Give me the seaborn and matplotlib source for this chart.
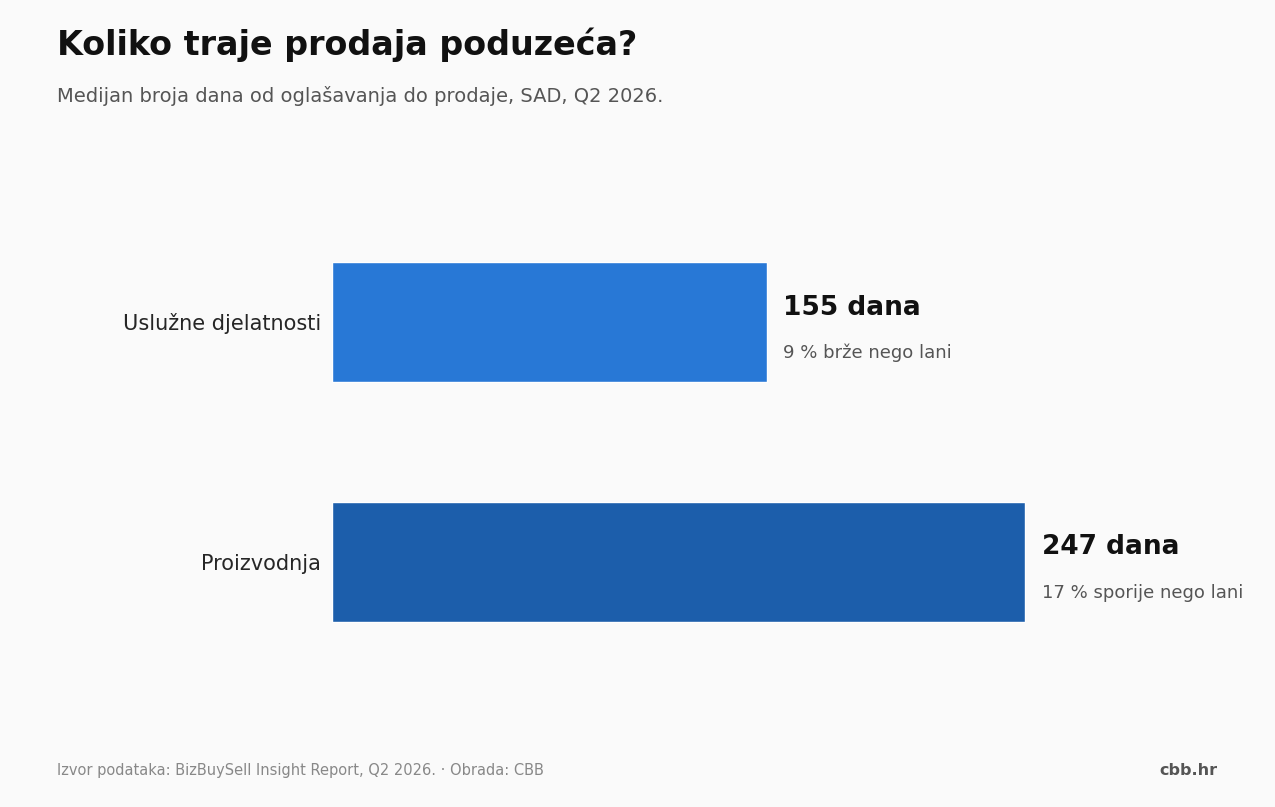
import matplotlib
matplotlib.use("Agg")
import matplotlib.pyplot as plt
import pandas as pd
import seaborn as sns

categories = ["Uslužne djelatnosti", "Proizvodnja"]
days = [155, 247]
notes = ["9 % brže nego lani", "17 % sporije nego lani"]
colors = ["#2878d6", "#1c5eab"]

sns.set_style("white")
plt.rcParams["font.family"] = ["DejaVu Sans"]

df = pd.DataFrame({"kategorija": categories, "dani": days})

fig = plt.figure(figsize=(12.75, 8.07), dpi=100, facecolor="#fafafa")
ax = fig.add_axes([0.26, 0.09, 0.70, 0.725])
ax.set_facecolor("#fafafa")

sns.barplot(data=df, y="kategorija", x="dani", hue="kategorija",
            palette=colors, width=0.5, orient="h", ax=ax, legend=False,
            saturation=1)

ax.set_xlim(0, 318)
ax.set_ylim(1.72, -0.72)
ax.set_xlabel("")
ax.set_ylabel("")
ax.set_xticks([])
ax.tick_params(axis="y", labelsize=15, length=4, color="#888888")
sns.despine(ax=ax, left=True, bottom=True)

for i, (v, note) in enumerate(zip(days, notes)):
    ax.text(v + 6, i - 0.06, f"{v} dana", fontsize=19, fontweight="bold",
            color="#111111", va="center")
    ax.text(v + 6, i + 0.13, note, fontsize=13, color="#555555", va="center")

fig.text(0.045, 0.945, "Koliko traje prodaja poduzeća?", fontsize=24,
         fontweight="bold", color="#111111", va="center")
fig.text(0.045, 0.881, "Medijan broja dana od oglašavanja do prodaje, SAD, Q2 2026.",
         fontsize=14, color="#555555", va="center")
fig.text(0.045, 0.045, "Izvor podataka: BizBuySell Insight Report, Q2 2026. · Obrada: CBB",
         fontsize=10.5, color="#888888", va="center")
fig.text(0.955, 0.045, "cbb.hr", fontsize=11.5, fontweight="bold",
         color="#555555", va="center", ha="right")

fig.savefig("out.png", dpi=100, facecolor=fig.get_facecolor())
